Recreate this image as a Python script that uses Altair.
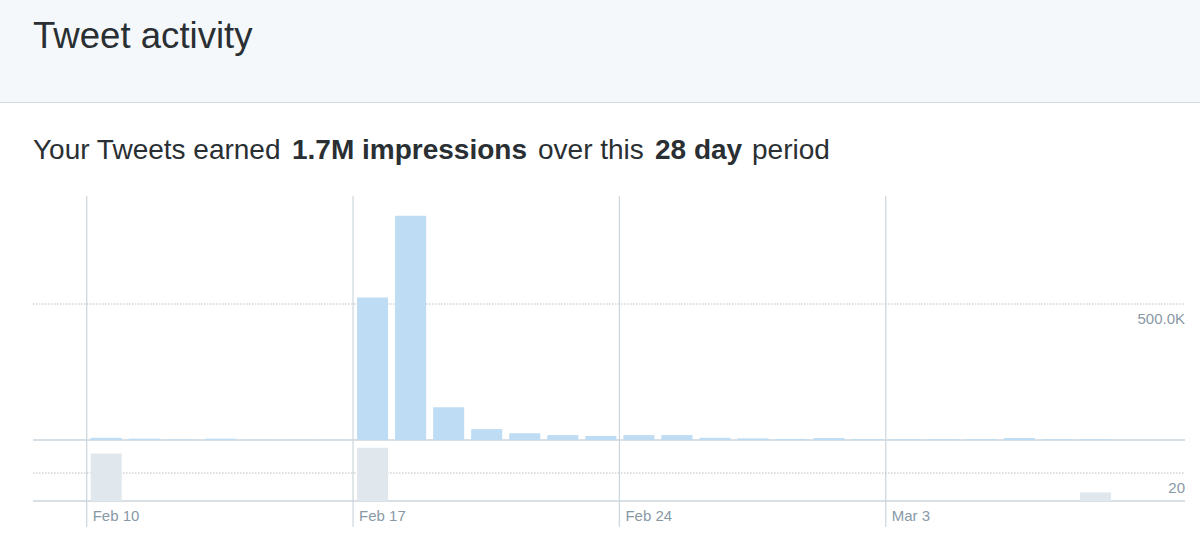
import altair as alt
import pandas as pd

# ---------------- data ----------------
dates = [
    "2019-02-09", "2019-02-10", "2019-02-11", "2019-02-12", "2019-02-13", "2019-02-14", "2019-02-15",
    "2019-02-16", "2019-02-17", "2019-02-18", "2019-02-19", "2019-02-20", "2019-02-21", "2019-02-22",
    "2019-02-23", "2019-02-24", "2019-02-25", "2019-02-26", "2019-02-27", "2019-02-28", "2019-03-01",
    "2019-03-02", "2019-03-03", "2019-03-04", "2019-03-05", "2019-03-06", "2019-03-07", "2019-03-08",
]
impressions = [
    1000, 8000, 5000, 2000, 5000, 1000, 1000,
    1000, 524000, 824000, 120000, 40000, 25000, 18000,
    15000, 18000, 18000, 8000, 6000, 4000, 7000,
    3000, 3000, 3000, 3000, 7000, 3000, 3000,
]
engagements = [
    0, 34, 0, 0, 0, 0, 0,
    0, 38, 0, 0, 0, 0, 0,
    0, 0, 0, 0, 0, 0, 0,
    0, 0, 0, 0, 0, 0, 6,
]
tick_dates = ["2019-02-10", "2019-02-17", "2019-02-24", "2019-03-03"]
tick_labels = ["Feb 10", "Feb 17", "Feb 24", "Mar 3"]
top_tick_values = [500000]
top_tick_labels = ["500.0K"]
bottom_tick_values = [20]
bottom_tick_labels = ["20"]
title_text = "Tweet activity"
sub_parts = ["Your Tweets earned", "1.7M impressions", "over this", "28 day", "period"]
sub_bold = [False, True, False, True, False]

# ---------------- layout ----------------
W, H = 1200, 560
FONT = "Liberation Sans, Helvetica Neue, Helvetica, Arial, sans-serif"
sub_x = [33, 292, 538, 655, 752]
PLOT_L, PLOT_R = 33, 1185
DAY = 86400000
t0 = int(pd.Timestamp("2019-02-10").value // 10**6)
x_domain = [t0 - 1.411 * DAY, t0 + 28.865 * DAY]
xscale = alt.Scale(domain=x_domain, range=[PLOT_L, PLOT_R])

df = pd.DataFrame({"date": dates, "imp": impressions, "eng": engagements})
df["end"] = (pd.to_datetime(df["date"]) + pd.Timedelta(days=1)).dt.strftime("%Y-%m-%d")
ticks = pd.DataFrame({"date": tick_dates, "label": tick_labels})

TEXT_DARK = "#292f33"
GRAY = "#8899a6"
LINE = "#ccd6dd"
DOT = "#b4bec6"
BLUE = "#bedcf3"
GREYBAR = "#e1e8ed"

one = pd.DataFrame({"k": [0]})

header_bg = alt.Chart(one).mark_rect(color="#f5f8fa").encode(
    x=alt.value(0), x2=alt.value(W), y=alt.value(0), y2=alt.value(102)
)
header_line = alt.Chart(one).mark_rule(color="#d3dbe1", strokeWidth=1.2).encode(
    x=alt.value(0), x2=alt.value(W), y=alt.value(102.5)
)
title = alt.Chart(pd.DataFrame({"t": [title_text]})).mark_text(
    align="left", baseline="alphabetic", font=FONT, fontSize=36.6, color=TEXT_DARK
).encode(x=alt.value(33), y=alt.value(47.5), text="t:N")

sub_layers = []
for part, bold, px in zip(sub_parts, sub_bold, sub_x):
    sub_layers.append(
        alt.Chart(pd.DataFrame({"t": [part]})).mark_text(
            align="left", baseline="alphabetic", font=FONT, fontSize=28,
            fontWeight="bold" if bold else "normal", color=TEXT_DARK
        ).encode(x=alt.value(px), y=alt.value(158.5), text="t:N")
    )

vgrid = alt.Chart(ticks).mark_rule(color=LINE, strokeWidth=1.2).encode(
    x=alt.X("date:T", scale=xscale, axis=None), y=alt.value(196), y2=alt.value(527)
)
vlabels = alt.Chart(ticks).mark_text(
    align="left", baseline="alphabetic", font=FONT, fontSize=15, color=GRAY, dx=6
).encode(x=alt.X("date:T", scale=xscale, axis=None), y=alt.value(521), text="label:N")

# ---- top panel (impressions) ----
yscale_top = alt.Scale(domain=[0, 500000], range=[440, 304], nice=False, zero=True)
top_ticks = pd.DataFrame({"v": top_tick_values, "label": top_tick_labels})
top_dot = alt.Chart(top_ticks).mark_rule(color=DOT, strokeDash=[1.5, 1.5], strokeWidth=1).encode(
    x=alt.value(PLOT_L), x2=alt.value(PLOT_R), y=alt.Y("v:Q", scale=yscale_top, axis=None)
)
top_lab = alt.Chart(top_ticks).mark_text(
    align="right", baseline="alphabetic", font=FONT, fontSize=15, color=GRAY, dy=20
).encode(x=alt.value(PLOT_R), y=alt.Y("v:Q", scale=yscale_top, axis=None), text="label:N")
top_base = alt.Chart(one).mark_rule(color=LINE, strokeWidth=1.5).encode(
    x=alt.value(PLOT_L), x2=alt.value(PLOT_R), y=alt.datum(0, scale=yscale_top, axis=None)
)
top_bars = alt.Chart(df).mark_rect(color=BLUE, xOffset=4, x2Offset=-3).encode(
    x=alt.X("date:T", scale=xscale, axis=None),
    x2="end:T",
    y=alt.Y("imp:Q", scale=yscale_top, axis=None),
    y2=alt.datum(0),
)
top_panel = alt.layer(top_dot, top_lab, top_base, top_bars)

# ---- bottom panel (engagements) ----
yscale_bot = alt.Scale(domain=[0, 20], range=[501, 473], nice=False, zero=True)
bot_ticks = pd.DataFrame({"v": bottom_tick_values, "label": bottom_tick_labels})
bot_dot = alt.Chart(bot_ticks).mark_rule(color=DOT, strokeDash=[1.5, 1.5], strokeWidth=1).encode(
    x=alt.value(PLOT_L), x2=alt.value(PLOT_R), y=alt.Y("v:Q", scale=yscale_bot, axis=None)
)
bot_lab = alt.Chart(bot_ticks).mark_text(
    align="right", baseline="alphabetic", font=FONT, fontSize=15, color=GRAY, dy=20
).encode(x=alt.value(PLOT_R), y=alt.Y("v:Q", scale=yscale_bot, axis=None), text="label:N")
bot_base = alt.Chart(one).mark_rule(color=LINE, strokeWidth=1.5).encode(
    x=alt.value(PLOT_L), x2=alt.value(PLOT_R), y=alt.datum(0, scale=yscale_bot, axis=None)
)
bot_bars = alt.Chart(df).mark_rect(color=GREYBAR, xOffset=4, x2Offset=-3).encode(
    x=alt.X("date:T", scale=xscale, axis=None),
    x2="end:T",
    y=alt.Y("eng:Q", scale=yscale_bot, axis=None),
    y2=alt.datum(0),
)
bot_panel = alt.layer(bot_dot, bot_lab, bot_base, bot_bars)

chart = alt.layer(
    header_bg, header_line, title, *sub_layers, vgrid, vlabels, top_panel, bot_panel
).resolve_scale(y="independent").properties(
    width=W, height=H, padding=0, autosize=alt.AutoSizeParams(type="none"), background="white"
).configure_view(stroke=None)

chart.save("out.html", embed_options={"renderer": "svg", "actions": False})
